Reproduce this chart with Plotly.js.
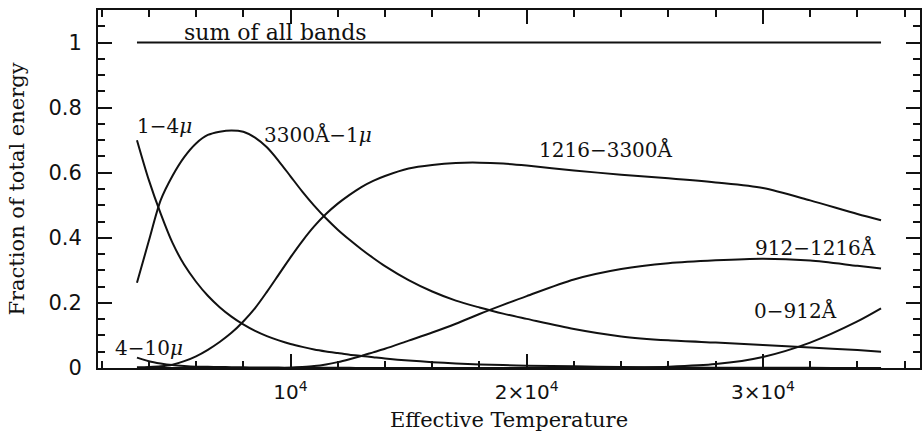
<!DOCTYPE html>
<html>
<head>
<meta charset="utf-8">
<script src="https://cdn.plot.ly/plotly-3.0.1.min.js"></script>
<style>html,body{margin:0;padding:0;background:#fff;}#chart{width:924px;height:432px;}</style>
</head>
<body>
<div id="chart"></div>
<script>
// Effective temperature grid (K)
const temperature = [3500, 4000, 4500, 5000, 5500, 6000, 6500, 7000, 7500, 8000, 8500, 9000, 9500, 10000,
  10500, 11000, 11500, 12000, 12500, 13000, 13500, 14000,
  15000, 16000, 17000, 18000, 19000, 20000,
  22000, 24000, 26000, 28000, 30000, 32000, 34000, 35000];

// Fraction of total energy per band
const sumAllBands = temperature.map(() => 1.0);
const band1to4mu = [0.700, 0.578, 0.475, 0.385, 0.317, 0.265, 0.222, 0.187, 0.158, 0.134, 0.114, 0.098, 0.085, 0.074,
  0.065, 0.057, 0.051, 0.046, 0.041, 0.037, 0.033, 0.029,
  0.023, 0.018, 0.014, 0.011, 0.009, 0.007,
  0.005, 0.003, 0.002, 0.001, 0.001, 0.0005, 0.0002, 0.0001];
const band3300to1mu = [0.262, 0.390, 0.515, 0.590, 0.648, 0.690, 0.716, 0.726, 0.730, 0.726, 0.708, 0.678, 0.636, 0.589,
  0.542, 0.499, 0.460, 0.425, 0.394, 0.365, 0.338, 0.313,
  0.270, 0.235, 0.207, 0.186, 0.167, 0.151,
  0.120, 0.097, 0.085, 0.078, 0.071, 0.063, 0.055, 0.050];
const band1216to3300 = [0.002, 0.003, 0.005, 0.010, 0.021, 0.036, 0.056, 0.080, 0.108, 0.143, 0.184, 0.234, 0.287, 0.340,
  0.390, 0.435, 0.473, 0.505, 0.532, 0.556, 0.575, 0.590,
  0.613, 0.624, 0.630, 0.631, 0.628, 0.622,
  0.607, 0.594, 0.583, 0.570, 0.553, 0.515, 0.473, 0.454];
const band912to1216 = [0, 0, 0, 0, 0, 0, 0, 0, 0, 0, 0, 0, 0, 0.001,
  0.003, 0.006, 0.011, 0.018, 0.027, 0.037, 0.048, 0.059,
  0.084, 0.109, 0.136, 0.166, 0.194, 0.221,
  0.272, 0.304, 0.322, 0.331, 0.336, 0.330, 0.314, 0.306];
const band0to912 = [0, 0, 0, 0, 0, 0, 0, 0, 0, 0, 0, 0, 0, 0,
  0, 0, 0, 0, 0, 0, 0, 0,
  0, 0, 0, 0, 0, 0,
  0.0005, 0.001, 0.004, 0.012, 0.034, 0.078, 0.143, 0.183];
const band4to10mu = [0.032, 0.021, 0.014, 0.009, 0.006, 0.004, 0.0035, 0.003, 0.0025, 0.002, 0.0018, 0.0015, 0.0012, 0.001,
  0.0008, 0.0007, 0.0006, 0.0005, 0.0004, 0.0003, 0.0002, 0.0002,
  0.0001, 0, 0, 0, 0, 0,
  0, 0, 0, 0, 0, 0, 0, 0];

// Tick labels
const xTickVals = [10000, 20000, 30000];
const xTickText = ['10<sup>4</sup>', '2×10<sup>4</sup>', '3×10<sup>4</sup>'];

// Curve labels
const labelText = ['sum of all bands', '1−4<i>μ</i>', '3300Å−1<i>μ</i>', '1216−3300Å', '912−1216Å', '0−912Å', '4−10<i>μ</i>'];
const labelX = [5400, 3400, 8800, 20450, 29600, 29550, 2480];
const labelY = [1.03, 0.745, 0.718, 0.672, 0.37, 0.176, 0.062];

const series = [sumAllBands, band1to4mu, band3300to1mu, band1216to3300, band912to1216, band0to912, band4to10mu];
const names = ['sum of all bands', '1-4μ', '3300Å-1μ', '1216-3300Å', '912-1216Å', '0-912Å', '4-10μ'];

const traces = series.map((s, i) => ({
  x: temperature, y: s, type: 'scatter', mode: 'lines', name: names[i],
  line: {color: '#111', width: 2, shape: 'spline', smoothing: 0.8},
  hoverinfo: 'x+y+name'
}));

const serif = 'DejaVu Serif, serif';
const sans = 'DejaVu Sans, sans-serif';

const annotations = labelText.map((t, i) => ({
  x: labelX[i], y: labelY[i], xref: 'x', yref: 'y', text: t, showarrow: false,
  xanchor: 'left', yanchor: 'middle', font: {family: serif, size: i === 0 ? 22 : 20, color: '#111'}
}));

const layout = {
  width: 924, height: 432,
  margin: {l: 98, r: 4, t: 10, b: 64},
  paper_bgcolor: '#fff', plot_bgcolor: '#fff',
  showlegend: false,
  font: {family: sans, color: '#111'},
  xaxis: {
    range: [1850, 36650], showgrid: false, zeroline: false,
    showline: true, linecolor: '#111', linewidth: 2, mirror: 'allticks',
    ticks: 'inside', ticklen: 14, tickwidth: 1.5, tickcolor: '#111',
    tickvals: xTickVals, ticktext: xTickText,
    tickfont: {family: sans, size: 20, color: '#111'},
    ticklabelstandoff: 5,
    minor: {dtick: 2000, tick0: 0, ticks: 'inside', ticklen: 7, tickwidth: 1.5, tickcolor: '#111'},
    title: {text: 'Effective Temperature', font: {family: serif, size: 21, color: '#111'}, standoff: 10}
  },
  yaxis: {
    range: [0, 1.1], showgrid: false, zeroline: false,
    showline: true, linecolor: '#111', linewidth: 2, mirror: 'allticks',
    ticks: 'inside', ticklen: 14, tickwidth: 1.5, tickcolor: '#111',
    dtick: 0.2, tick0: 0,
    tickfont: {family: sans, size: 21, color: '#111'},
    ticklabelstandoff: 10,
    minor: {dtick: 0.05, tick0: 0, ticks: 'inside', ticklen: 7, tickwidth: 1.5, tickcolor: '#111'},
    title: {text: 'Fraction of total energy', font: {family: serif, size: 21, color: '#111'}, standoff: 18}
  },
  annotations: annotations
};

Plotly.newPlot('chart', traces, layout, {displayModeBar: false});
</script>
</body>
</html>
